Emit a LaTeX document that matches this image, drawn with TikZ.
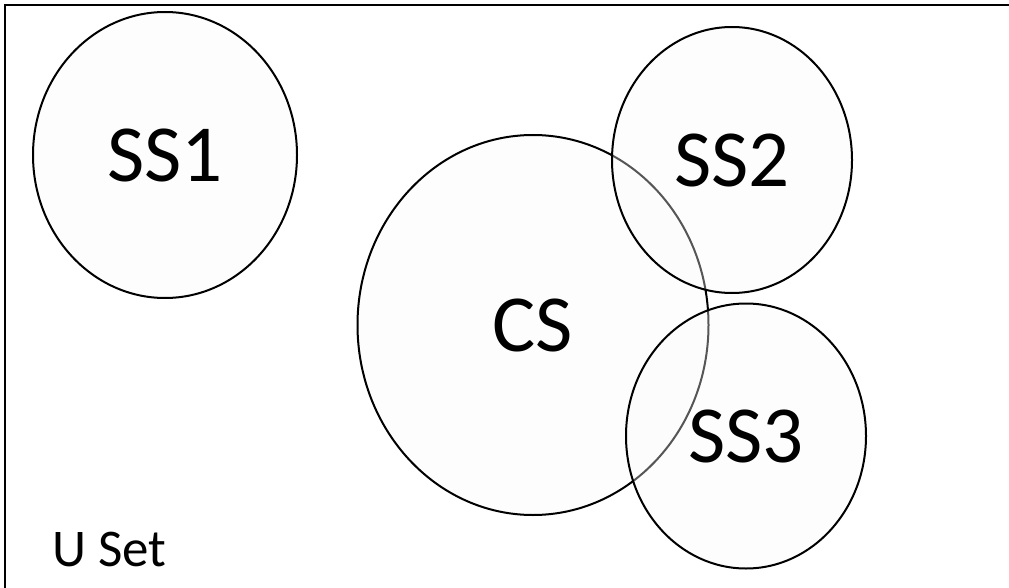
\documentclass[tikz,border=0pt]{standalone}
\usepackage{fontspec}
\setmainfont{Carlito}
\usetikzlibrary{shapes.geometric}
\begin{document}
\begin{tikzpicture}[x=1pt,y=-1pt,
  setbubble/.style={ellipse,draw=black,line width=2pt,fill=gray!5,fill opacity=0.35,
    text opacity=1,inner sep=0pt,font=\fontsize{81}{97}\selectfont},
  frameline/.style={line width=2.6pt,black}]
\useasboundingbox (0,0) rectangle (1009,588);
% universe frame (top and left edges)
\coordinate (ftr) at (1012,5);
\coordinate (ftl) at (5,5);
\coordinate (fbl) at (5,592);
\draw[frameline] (ftr) -- (ftl) -- (fbl);
% sets
\node[setbubble,minimum width=264pt,minimum height=286pt] (ss1) at (165,155) {SS1};
\node[setbubble,minimum width=351pt,minimum height=380pt] (cs) at (533,325) {CS};
\node[setbubble,minimum width=240pt,minimum height=266pt] (ss2) at (732,160) {SS2};
\node[setbubble,minimum width=240pt,minimum height=265pt] (ss3) at (746,436) {SS3};
\node[font=\fontsize{53}{64}\selectfont,anchor=base west,inner sep=0pt] (uset) at (52,566) {U Set};
\end{tikzpicture}
\end{document}
